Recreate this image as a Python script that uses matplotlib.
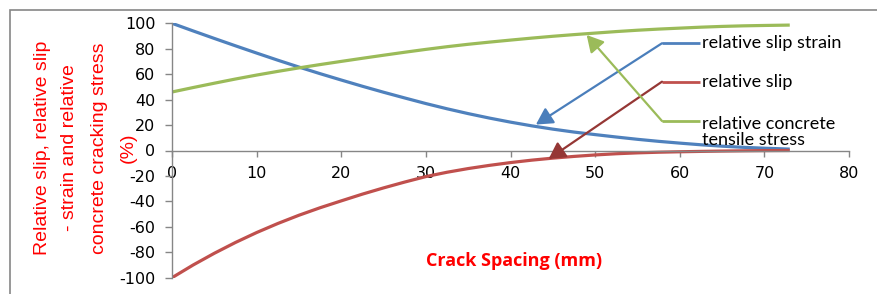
"""
Relative slip / slip strain / concrete tensile stress vs crack spacing
"""

import matplotlib
matplotlib.use("Agg")
import matplotlib.pyplot as plt
from matplotlib.patches import Rectangle

plt.rcParams["axes.unicode_minus"] = False

# Data (crack spacing in mm, values in %)
spacing = [0, 2.5, 5, 7.5, 10, 12.5, 15, 17.5, 20, 22.5, 25, 27.5, 30, 32.5, 35,
           37.5, 40, 42.5, 45, 47.5, 50, 52.5, 55, 57.5, 60, 62.5, 65, 67.5, 70, 73]
slip_strain = [100, 94, 88.1, 82.3, 76.6, 71.0, 65.6, 60.4, 55.4, 50.5, 45.8, 41.3,
               36.9, 32.8, 29.0, 25.5, 22.3, 19.4, 16.8, 14.5, 12.5, 10.6, 8.8, 7.2,
               5.8, 4.5, 3.4, 2.5, 1.8, 1.1]
slip = [-100, -90, -80.8, -72.3, -64.5, -57.4, -50.9, -45.0, -39.6, -34.3, -29.4,
        -24.8, -20.5, -17.1, -14.2, -11.7, -9.5, -7.6, -6.0, -4.65, -3.5, -2.55,
        -1.85, -1.35, -1.0, -0.7, -0.45, -0.25, -0.1, 0]
tensile_stress = [46, 49.5, 52.9, 56.2, 59.3, 62.2, 64.95, 67.55, 70.05, 72.5, 74.9,
                  77.25, 79.5, 81.6, 83.5, 85.2, 86.8, 88.35, 89.8, 91.1, 92.3, 93.5,
                  94.55, 95.45, 96.2, 96.95, 97.55, 98.0, 98.3, 98.6]

x_ticks = [0, 10, 20, 30, 40, 50, 60, 70, 80]
y_ticks = [-100, -80, -60, -40, -20, 0, 20, 40, 60, 80, 100]

labels = ["relative slip strain", "relative slip", "relative concrete\ntensile stress"]

blue = "#4F81BD"
red = "#C0504D"
green = "#9BBB59"
grey = "#868686"

W, H = 877, 294
fig = plt.figure(figsize=(W / 100, H / 100), dpi=100)

# outer chart frame (only top and left edges are visible)
fig.patches.append(Rectangle((10 / W, -0.2), 1.5, 1.2 - 10 / H,
                             transform=fig.transFigure, fill=False,
                             edgecolor=grey, linewidth=1.2))

ax = fig.add_axes([172 / W, 16.3 / H, 677 / W, 254.4 / H])

for vals, c in [(slip_strain, blue), (slip, red), (tensile_stress, green)]:
    ax.plot(spacing, vals, color=c, lw=2.3, solid_capstyle="butt",
            solid_joinstyle="round")

ax.set_xlim(0, 80)
ax.set_ylim(-100, 100)
ax.set_xticks(x_ticks)
ax.set_yticks(y_ticks)
ax.spines["top"].set_visible(False)
ax.spines["right"].set_visible(False)
ax.spines["bottom"].set_position(("data", 0))
for s in ("left", "bottom"):
    ax.spines[s].set_color(grey)
    ax.spines[s].set_linewidth(1)
ax.tick_params(axis="x", direction="out", length=4, width=1, color=grey,
               pad=7.5, labelsize=11.5, labelcolor="black")
ax.tick_params(axis="y", direction="out", length=5, width=1, color=grey,
               pad=7, labelsize=11.5, labelcolor="black")
ax.patch.set_alpha(0)

# callout labels with leader lines
ax.text(62.6, 84.3, labels[0], fontsize=13, family="Lato", va="center", ha="left")
ax.text(62.6, 54.1, labels[1], fontsize=13, family="Lato", va="center", ha="left")
ax.text(62.6, 14.5, labels[2], fontsize=13, family="Lato", va="center", ha="left",
        linespacing=1.05)

callouts = [
    ((57.9, 84.3), (43.0, 20.4), blue, "#4A7EBB"),
    ((57.9, 54.1), (44.5, -6.7), red, "#953735"),
    ((57.9, 23.2), (49.0, 90.8), green, green),
]
for corner, tip, c, ac in callouts:
    ax.plot([corner[0], 62.4], [corner[1], corner[1]], color=c, lw=2,
            solid_capstyle="butt")
    ax.annotate("", xy=tip, xytext=corner,
                arrowprops=dict(arrowstyle="-|>,head_length=1.0,head_width=0.55",
                                color=ac, lw=1.6, shrinkA=0, shrinkB=0))

# axis titles
ylab_lines = ["Relative slip, relative slip", "- strain and relative",
              "concrete cracking stress", "(%)"]
ylab_x = [43, 70, 100, 128]
for txt, px in zip(ylab_lines, ylab_x):
    fig.text(px / W, 1 - 148 / H, txt, rotation=90, color="red",
             family=["Liberation Sans Narrow", "Liberation Sans"], fontsize=14,
             ha="center", va="center")

fig.text(514 / W, 1 - 261 / H, "Crack Spacing (mm)", color="red",
         family="Open Sans", fontweight="bold", fontsize=13, ha="center", va="center")

plt.savefig("out.png", dpi=100)
plt.close()
